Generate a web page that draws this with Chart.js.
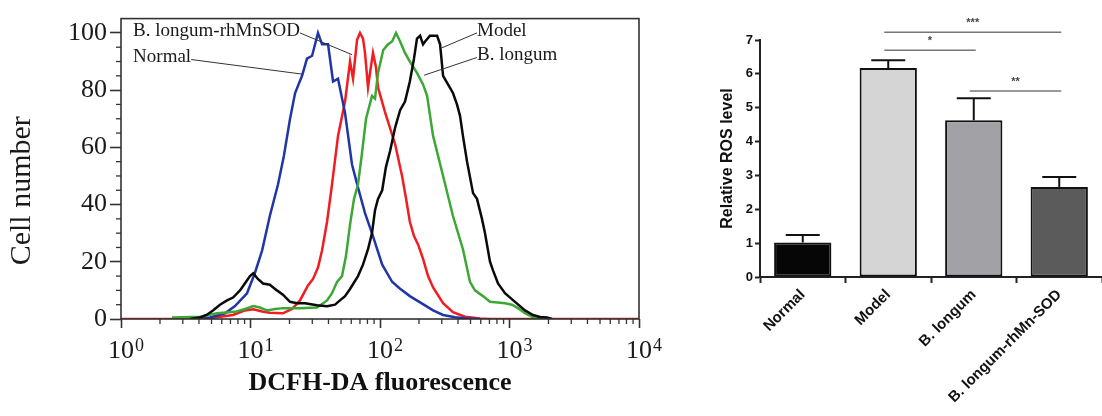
<!DOCTYPE html>
<html>
<head>
<meta charset="utf-8">
<script src="https://cdn.jsdelivr.net/npm/chart.js@4.4.1/dist/chart.umd.min.js"></script>
<style>
body{margin:0;background:#fff;}
#wrap{position:relative;width:1102px;height:416px;overflow:hidden;background:#fff;}
#histChart{position:absolute;left:0;top:0;}
#rosChart{position:absolute;left:680px;top:0;}
</style>
</head>
<body>
<div id="wrap">
<canvas id="histChart" width="680" height="416"></canvas>
<canvas id="rosChart" width="422" height="416"></canvas>
</div>
<script>
// flow histogram, DCFH-DA fluorescence (x) vs cell number (y)
const modelX = [3.41,4.07,4.61,5.13,5.81,6.59,7.33,8.30,9.07,9.91,10.5,11.4,12.5,14.1,16.0,17.8,20.2,22.9,26.4,32.6,39.0,44.9,49.1,53.7,58.7,67.6,73.9,80.8,86.7,91.5,96.5,104,111,120,131,143,156,170,183,193,204,215,223,243,261,276,291,307,335,366,393,415,437,470,523,561,613,647,707,746,815,923,1103,1317,1519,1720,1948,2130];
const modelY = [0,0.5,1.5,3,5,6.5,7.5,10,12.5,15,16,14,12.4,12,10,8.5,6,5.5,5.5,4.8,4.5,5,6.5,8,10.5,15,19,24.4,30,38,42,45,53,59,67,73,76,83,91,98,99,96,97,99,99,99,96,85,82,79,75,71,64,55,44,42,35,30,20,17,12.4,9,6,3,1.4,0.7,0.5,0];

const longumX = [2.48,4.07,5.51,7.59,9.07,10.5,11.8,13.4,15.5,17.8,24.1,32.6,39.0,42.6,46.6,50.9,54.6,58.7,63.0,67.6,72.6,78.0,86.7,91.5,96.5,106,115,124,133,143,156,170,193,215,231,257,307,366,437,495,541,624,707,815,923,1045,1163,1317,1519,1880];
const longumY = [0.5,0.8,2,2.5,3.5,4.5,4,3,3.5,3.8,3.8,4,6.5,9,13,15,22,33,42,47,58,70,78,77,86,94,96,97,100,97,93,90,86,82,78,64,50,36,24.4,13,10,8,6,5.8,5.5,5,3.8,2,0.6,0];

const normalX = [3.73,4.87,6.36,7.59,9.40,10.8,12.3,14.1,16.3,18.1,20.2,22.1,25.0,27.3,29.9,33.2,35.7,39.7,43.4,47.4,53.7,60.8,67.6,76.6,86.7,104,124,143,170,204,257,307,380,470,592];
const normalY = [0,0.5,2,4.5,9,16,24,36,47,57,70,79,85,91,92,100,96,96,83,84,72,54,46,37,30,19,13,10.6,8,5.8,3,1.4,0.6,0.2,0];

const sodX = [1,4.07,5.32,7.33,9.07,10.5,12.3,14.1,17.8,20.9,24.1,27.8,30.4,33.2,35.7,39.0,42.6,47.4,53.7,58.7,61.9,66.5,70.1,73.9,76.6,80.8,83.7,88.3,93.1,96.5,109,131,148,159,170,183,197,215,235,257,307,366,453,592,707,10000];
const sodY = [0,0,0.5,1.4,3,3.4,2.6,2.2,2,3.5,6.5,11.7,14,18,24,34,47,64,76,90,84,97.6,100,98,93,81,86,93,88,81,72.5,61,50,42,34,29,26,21,15,11,5.5,2.4,0.8,0.2,0,0];

const xTicks = [1, 10, 100, 1000, 10000];
const yTicks = [0, 20, 40, 60, 80, 100];

// relative ROS bar chart
const groups = ["Normal", "Model", "B. longum", "B. longum-rhMn-SOD"];
const rosLevel = [1.02, 6.17, 4.63, 2.66];
const rosErr = [0.22, 0.23, 0.65, 0.29];
const rosTicks = [0, 1, 2, 3, 4, 5, 6, 7];

const serif = "'Liberation Serif', 'Times New Roman', serif";
const sans = "'Liberation Sans', Arial, sans-serif";

function pts(xs, ys) {
    return xs.map((x, i) => ({ x: x, y: ys[i] }));
}

function line(ctx, x1, y1, x2, y2) {
    ctx.beginPath();
    ctx.moveTo(x1, y1);
    ctx.lineTo(x2, y2);
    ctx.stroke();
}

// frame, minor ticks, exponents, y title and the curve labels
const histDecor = {
    id: "histDecor",
    afterDraw(chart) {
        const ctx = chart.ctx;
        const a = chart.chartArea;
        const x = chart.scales.x, y = chart.scales.y;
        ctx.save();
        ctx.strokeStyle = "#333";
        ctx.lineWidth = 1.6;
        ctx.strokeRect(a.left, a.top, a.right - a.left, a.bottom - a.top);

        ctx.lineWidth = 1.3;
        for (let d = 1; d < 10000; d *= 10) {
            for (let m = 2; m < 10; m++) {
                const px = x.getPixelForValue(d * m);
                line(ctx, px, a.bottom, px, a.bottom + 5);
            }
        }
        for (let v = 5; v <= 100; v += 5) {
            if (v % 20 === 0) continue;
            const py = y.getPixelForValue(v);
            line(ctx, a.left - 5, py, a.left, py);
        }

        // exponents of the 10^n labels
        ctx.fillStyle = "#1a1a1a";
        ctx.font = "26px " + serif;
        const baseW = ctx.measureText("10").width;
        ctx.font = "18px " + serif;
        ctx.textAlign = "left";
        ctx.textBaseline = "top";
        xTicks.forEach(v => {
            const px = x.getPixelForValue(v);
            ctx.fillText(String(Math.round(Math.log10(v))), px + baseW / 2 + 1, a.bottom + 18);
        });

        // y title
        ctx.save();
        ctx.translate(22, (a.top + a.bottom) / 2 + 22);
        ctx.rotate(-Math.PI / 2);
        ctx.font = "30px " + serif;
        ctx.textAlign = "center";
        ctx.textBaseline = "middle";
        ctx.fillText("Cell number", 0, 0);
        ctx.restore();

        const notes = [
            { text: "B. longum-rhMnSOD", x: 1.24, y: 100.7, tx: 60.8, ty: 92.4, side: "right" },
            { text: "Normal", x: 1.24, y: 91.4, tx: 25.0, ty: 85.6, side: "right" },
            { text: "Model", x: 561, y: 100.7, tx: 301, ty: 94.8, side: "left" },
            { text: "B. longum", x: 561, y: 92.1, tx: 219, ty: 85.2, side: "left" }
        ];
        ctx.font = "19px " + serif;
        ctx.strokeStyle = "#333";
        ctx.lineWidth = 1;
        ctx.textBaseline = "middle";
        ctx.textAlign = "left";
        notes.forEach(n => {
            const px = x.getPixelForValue(n.x);
            const py = y.getPixelForValue(n.y);
            ctx.fillText(n.text, px, py);
            const w = ctx.measureText(n.text).width;
            const sx = n.side === "right" ? px + w : px;
            line(ctx, sx, py + 2, x.getPixelForValue(n.tx), y.getPixelForValue(n.ty));
        });
        ctx.restore();
    }
};

new Chart(document.getElementById("histChart"), {
    type: "line",
    data: {
        datasets: [
            { label: "Model", data: pts(modelX, modelY), borderColor: "#0a0a0a" },
            { label: "B. longum", data: pts(longumX, longumY), borderColor: "#3da736" },
            { label: "Normal", data: pts(normalX, normalY), borderColor: "#2136a6" },
            { label: "B. longum-rhMnSOD", data: pts(sodX, sodY), borderColor: "#f01d22" }
        ]
    },
    options: {
        responsive: false,
        animation: false,
        layout: { padding: { top: 12, right: 41, left: 0, bottom: 0 } },
        elements: {
            point: { radius: 0 },
            line: { borderWidth: 2.5, tension: 0, fill: false }
        },
        plugins: { legend: { display: false }, tooltip: { enabled: false } },
        scales: {
            x: {
                type: "logarithmic",
                min: 1,
                max: 10000,
                afterBuildTicks: s => { s.ticks = xTicks.map(v => ({ value: v })); },
                afterFit: s => { s.height = 97; },
                ticks: {
                    autoSkip: false,
                    maxRotation: 0,
                    padding: 8,
                    color: "#1a1a1a",
                    font: { family: serif, size: 26 },
                    callback: () => "10"
                },
                grid: { drawOnChartArea: false, tickLength: 9, tickColor: "#333", tickWidth: 1.6 },
                border: { display: false },
                title: {
                    display: true,
                    text: "DCFH-DA fluorescence",
                    color: "#111",
                    font: { family: serif, size: 26, weight: "bold" },
                    padding: { top: 0, bottom: 17 }
                }
            },
            y: {
                min: 0,
                max: 105,
                afterBuildTicks: s => { s.ticks = yTicks.map(v => ({ value: v })); },
                afterFit: s => { s.width = 121; },
                ticks: { padding: 3, color: "#1a1a1a", font: { family: serif, size: 26 } },
                grid: { drawOnChartArea: false, tickLength: 11, tickColor: "#333", tickWidth: 1.6 },
                border: { display: false }
            }
        }
    },
    plugins: [histDecor]
});

// error bars and significance lines
const rosDecor = {
    id: "rosDecor",
    afterDatasetsDraw(chart) {
        const ctx = chart.ctx;
        const y = chart.scales.y;
        const bars = chart.getDatasetMeta(0).data;
        ctx.save();
        ctx.strokeStyle = "#111";
        ctx.lineWidth = 2;
        bars.forEach((b, i) => {
            const top = y.getPixelForValue(rosLevel[i] + rosErr[i]);
            line(ctx, b.x, b.y, b.x, top);
            line(ctx, b.x - 17, top, b.x + 17, top);
        });

        const marks = [
            { from: 1, to: 3, v: 7.23, text: "***" },
            { from: 1, to: 2, v: 6.7, text: "*" },
            { from: 2, to: 3, v: 5.49, text: "**" }
        ];
        ctx.strokeStyle = "#777";
        ctx.fillStyle = "#444";
        ctx.lineWidth = 1.5;
        ctx.font = "bold 11px " + sans;
        ctx.textAlign = "center";
        ctx.textBaseline = "bottom";
        marks.forEach(m => {
            const x1 = bars[m.from].x - 4, x2 = bars[m.to].x + 2;
            const py = y.getPixelForValue(m.v);
            line(ctx, x1, py, x2, py);
            ctx.fillText(m.text, (x1 + x2) / 2, py - 4);
        });
        ctx.restore();
    }
};

new Chart(document.getElementById("rosChart"), {
    type: "bar",
    data: {
        labels: groups,
        datasets: [{
            data: rosLevel,
            backgroundColor: ["#060606", "#d5d5d5", "#a2a2a6", "#5b5b5b"],
            borderColor: "#111",
            borderWidth: 2,
            borderSkipped: false,
            barPercentage: 0.67,
            categoryPercentage: 1
        }]
    },
    options: {
        responsive: false,
        animation: false,
        layout: { padding: { top: 40, right: 0, left: 0, bottom: 0 } },
        plugins: { legend: { display: false }, tooltip: { enabled: false } },
        scales: {
            x: {
                afterFit: s => { s.height = 139; },
                ticks: {
                    minRotation: 45,
                    maxRotation: 45,
                    autoSkip: false,
                    padding: 3,
                    color: "#111",
                    font: { family: sans, size: 15, weight: "bold" }
                },
                grid: { drawOnChartArea: false, tickLength: 6, tickColor: "#222", tickWidth: 2 },
                border: { color: "#222", width: 2 }
            },
            y: {
                min: 0,
                max: 7,
                afterBuildTicks: s => { s.ticks = rosTicks.map(v => ({ value: v })); },
                afterFit: s => { s.width = 80; },
                ticks: { padding: 2, color: "#111", font: { family: sans, size: 13, weight: "bold" } },
                grid: { drawOnChartArea: false, tickLength: 5, tickColor: "#222", tickWidth: 2 },
                border: { color: "#222", width: 2 },
                title: {
                    display: true,
                    text: "Relative ROS level",
                    color: "#111",
                    font: { family: sans, size: 16, weight: "bold" },
                    padding: { top: 38, bottom: 0 }
                }
            }
        }
    },
    plugins: [rosDecor]
});
</script>
</body>
</html>
